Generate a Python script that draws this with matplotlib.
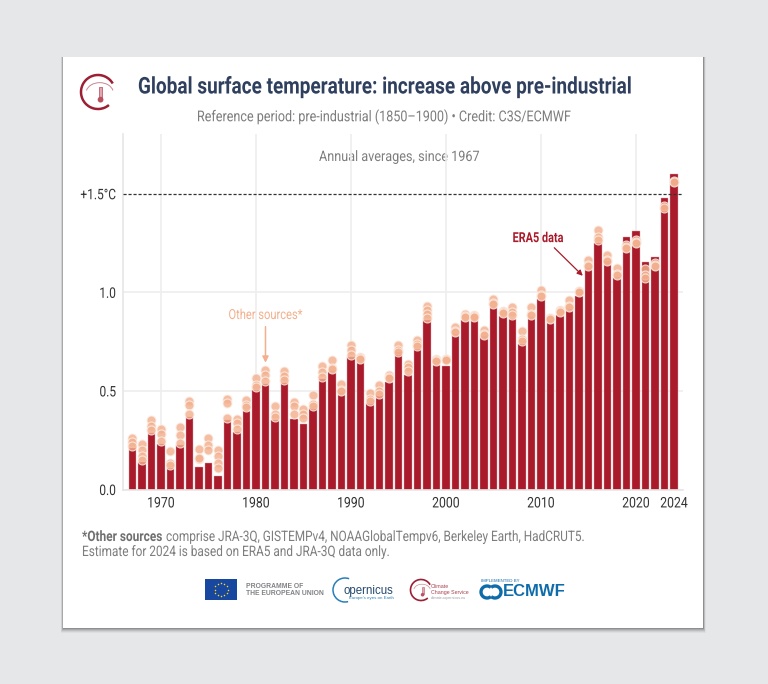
import numpy as np
import matplotlib
matplotlib.use('Agg')
import matplotlib.pyplot as plt
from matplotlib.patches import Rectangle, Circle, Arc
from matplotlib.patheffects import AbstractPathEffect
from matplotlib.transforms import Affine2D

years = list(range(1967, 2025))
era5 = [0.208, 0.14, 0.288, 0.233, 0.11, 0.225, 0.369, 0.112, 0.135, 0.068,
        0.352, 0.293, 0.40, 0.507, 0.535, 0.355, 0.538, 0.357, 0.332, 0.411,
        0.558, 0.60, 0.49, 0.673, 0.656, 0.44, 0.48, 0.543, 0.695, 0.582,
        0.714, 0.86, 0.63, 0.628, 0.788, 0.86, 0.863, 0.778, 0.927, 0.88,
        0.867, 0.74, 0.875, 0.965, 0.853, 0.883, 0.914, 0.98, 1.125, 1.252,
        1.157, 1.08, 1.28, 1.31, 1.154, 1.18, 1.48, 1.598]
# other datasets, read per year
others = [[.263, .241, .22], [.233, .2, .169, .149], [.355, .32, .30], [.306, .28, .247],
          [.196, .132, .123], [.318, .275, .236], [.448, .427, .382], [.203, .157, .16],
          [.263, .225, .2], [.2, .169, .132, .111], [.458, .439, .365], [.36, .338, .309],
          [.456, .427, .416], [.568, .529, .52], [.605, .579, .551], [.422, .382, .368],
          [.601, .574, .554], [.444, .422, .382], [.41, .382, .365], [.48, .436, .422],
          [.627, .596, .571], [.655, .617, .61], [.537, .507, .5], [.731, .706, .681],
          [.672, .665, .66], [.49, .458, .45], [.529, .5, .485], [.58, .57, .565],
          [.731, .706, .695], [.638, .622, .601], [.76, .74, .73], [.929, .909, .889, .87],
          [.664, .655, .65], [.664, .66, .655], [.824, .802, .8], [.892, .878, .875],
          [.883, .88, .875], [.811, .79, .785], [.965, .945, .94], [.905, .9, .895],
          [.926, .9, .883], [.804, .762, .755], [.926, .892, .885], [1.013, .985, .98],
          [.87, .868, .865], [.909, .905, .9], [.96, .93, .925], [1.008, 1.005, 1.0],
          [1.165, 1.14, 1.135], [1.318, 1.28, 1.264], [1.19, 1.165, 1.16], [1.125, 1.095, 1.09],
          [1.24, 1.23, 1.225], [1.263, 1.255, 1.25], [1.117, 1.086, 1.073], [1.149, 1.14, 1.135],
          [1.437, 1.43], [1.564, 1.56]]
y_ticks = [0.0, 0.5, 1.0]
y_labels = ['0.0', '0.5', '1.0']
x_ticks = [1970, 1980, 1990, 2000, 2010, 2020, 2024]

RED = '#a91b2b'
PEACH = '#f3b08e'
GREY = '#7d7d7d'
plt.rcParams['font.family'] = ['Roboto', 'DejaVu Sans']


# no condensed font installed: narrow the glyphs when they are drawn
class Squeeze(AbstractPathEffect):
    def __init__(self, fx, anchor=0.0):
        super().__init__()
        self.fx = fx
        self.anchor = anchor

    def draw_path(self, renderer, gc, tpath, affine, rgbFace=None):
        w = tpath.get_extents().x1 * self.anchor
        squeeze = Affine2D().translate(-w, 0).scale(self.fx, 1).translate(w, 0)
        renderer.draw_path(gc, tpath, squeeze + affine, rgbFace)


fig = plt.figure(figsize=(7.68, 6.84), dpi=100, facecolor='#e6e7e9')
rend = fig.canvas.get_renderer()


def fit(t, width):
    # squeeze a text to the pixel width it has in the reference
    anchor = {'left': 0.0, 'center': 0.5, 'right': 1.0}[t.get_ha()]
    t.set_path_effects([Squeeze(width / t.get_window_extent(rend).width, anchor)])
    return t


# page layer in pixel coordinates
bg = fig.add_axes([0, 0, 1, 1], zorder=0)
bg.set_xlim(0, 768)
bg.set_ylim(684, 0)
bg.axis('off')
for i, a in zip(range(5, 0, -1), [0.06, 0.1, 0.14, 0.2, 0.3]):
    bg.add_patch(Rectangle((63 - i / 2, 57), 640 + i, 571 + i, fc='#555555', ec='none', alpha=a))
bg.add_patch(Rectangle((63, 57), 640, 571, fc='white', ec='none'))

fit(bg.text(384.5, 87, 'Global surface temperature: increase above pre-industrial', fontsize=16.6,
            fontweight='bold', color='#2f3f5e', va='center', ha='center'), 493)
fit(bg.text(384, 117, 'Reference period: pre-industrial (1850\u20131900) \u2022 Credit: C3S/ECMWF',
            fontsize=10.8, color=GREY, va='center', ha='center'), 374)
fit(bg.text(399, 157, 'Annual averages, since 1967', fontsize=10.4, color=GREY, va='center', ha='center'), 160)

# footer
fit(bg.text(162, 537, '*Other sources', fontsize=10.4, fontweight='bold', color='#6f6f6f', va='center', ha='right'), 80)
fit(bg.text(166, 537, 'comprise JRA-3Q, GISTEMPv4, NOAAGlobalTempv6, Berkeley Earth, HadCRUT5.',
            fontsize=10.4, color=GREY, va='center', ha='left'), 416)
fit(bg.text(82, 552, 'Estimate for 2024 is based on ERA5 and JRA-3Q data only.', fontsize=10.4,
            color=GREY, va='center', ha='left'), 306)


# top left logo
def c3s_logo(ax, cx, cy, r, lw):
    ax.add_patch(Arc((cx, cy), 2 * r, 2 * r, theta1=50, theta2=330, color='#9c1f33', lw=lw))
    ax.add_patch(Arc((cx + r * 0.1, cy + r * 0.05), 1.6 * r, 1.2 * r, theta1=190, theta2=350, color='#c98a94', lw=lw * 0.4))
    ax.add_patch(Rectangle((cx + r * 0.05, cy - r * 0.3), r * 0.2, r * 0.7, fc='#e2a7ae', ec='#b8505f', lw=lw * 0.3))
    ax.add_patch(Circle((cx + r * 0.15, cy + r * 0.45), r * 0.17, fc='#b8505f', ec='none'))


c3s_logo(bg, 98, 92, 17, 1.8)

# bottom logos
bg.add_patch(Rectangle((205, 579), 32, 21, fc='#17479e', ec='none'))
ang = np.arange(12) * np.pi / 6
bg.scatter(221 + 6.5 * np.cos(ang), 589.5 + 6.5 * np.sin(ang), s=1.2, c='#ffd617', lw=0)
bg.text(246, 586, 'PROGRAMME OF', fontsize=4.9, fontweight='bold', color='#808285', va='center', family='Liberation Sans')
bg.text(246, 593.5, 'THE EUROPEAN UNION', fontsize=4.9, fontweight='bold', color='#808285', va='center', family='Liberation Sans')
bg.add_patch(Arc((345, 590), 24, 24, theta1=75, theta2=290, color='#2a7fb8', lw=1.1))
bg.text(343, 591, 'opernicus', fontsize=8.3, color='#244a6e', va='center', family='Liberation Sans')
bg.text(349, 598, 'Europe\u2019s eyes on Earth', fontsize=3.2, color='#2a7fb8', va='center', family='Liberation Sans')
c3s_logo(bg, 421, 590, 10.5, 1.2)
bg.text(431, 587, 'Climate', fontsize=3.8, color='#a9424f', va='center', family='Liberation Sans')
bg.text(431, 592.5, 'Change Service', fontsize=3.8, color='#a9424f', va='center', family='Liberation Sans')
bg.text(431, 598.5, 'climate.copernicus.eu', fontsize=2.6, color='#999999', va='center', family='Liberation Sans')
bg.text(481, 580.5, 'IMPLEMENTED BY', fontsize=3.2, color='#1a6ea8', va='center', family='Liberation Sans')
bg.add_patch(Arc((487, 592), 12, 12, theta1=50, theta2=310, color='#0f6cab', lw=2.4))
bg.add_patch(Arc((495, 592), 12, 12, theta1=230, theta2=130, color='#0f6cab', lw=2.4))
bg.text(503, 592, 'ECMWF', fontsize=12, fontweight='bold', color='#0f6cab', va='center', family='Liberation Sans')

# chart
left, right, top, bottom = 123, 683, 134, 489.5
ax = fig.add_axes([left / 768, 1 - bottom / 684, (right - left) / 768, (bottom - top) / 684],
                  zorder=1, facecolor='none')
ax.set_xlim(1966, 2024.95)
ax.set_ylim(0, 1.803)
for s in ['top', 'right']:
    ax.spines[s].set_visible(False)
for s in ['left', 'bottom']:
    ax.spines[s].set_color('#e6e6e6')
    ax.spines[s].set_linewidth(1.2)

ax.bar(years, era5, width=0.83, color=RED, edgecolor='#e0a0a6', linewidth=0.3, zorder=2)
for yr, vals in zip(years, others):
    ax.scatter([yr] * len(vals), vals, s=42, color=PEACH, alpha=0.82, edgecolor='#fbeee6',
               linewidth=0.8, zorder=3)

ax.axhline(1.5, color='#333333', lw=0.9, ls=(0, (2.5, 1.5)), zorder=4)

ax.set_xticks(x_ticks)
ax.set_xticklabels([str(x) for x in x_ticks])
ax.set_yticks(y_ticks + [1.5])
ax.set_yticklabels(y_labels + ['+1.5\u00b0C'])
ax.tick_params(length=0, labelsize=10.5, labelcolor='#333333')
ax.tick_params(axis='x', pad=5)
ax.tick_params(axis='y', pad=5)
ax.grid(True, color='#eeeeee', lw=1.2, zorder=0)
ax.set_axisbelow(True)
ax.get_xgridlines()[-1].set_visible(False)
ax.get_ygridlines()[-1].set_visible(False)
for lab in ax.get_xticklabels():
    lab.set_path_effects([Squeeze(0.84, 0.5)])
for lab in ax.get_yticklabels():
    lab.set_path_effects([Squeeze(0.82, 1.0)])

fit(ax.text(2009.7, 1.275, 'ERA5 data', fontsize=10, fontweight='bold', color=RED, ha='center', va='center'), 51)
ax.annotate('', xy=(2014.4, 1.084), xytext=(2011.4, 1.226),
            arrowprops=dict(arrowstyle='-|>', color=RED, lw=0.9, shrinkA=0, shrinkB=0, mutation_scale=8))
fit(ax.text(1981, 0.885, 'Other sources*', fontsize=10, color=PEACH, ha='center', va='center'), 74)
ax.annotate('', xy=(1981, 0.643), xytext=(1981, 0.826),
            arrowprops=dict(arrowstyle='-|>', color=PEACH, lw=1.1, shrinkA=0, shrinkB=0, mutation_scale=9))

fig.savefig('out.png', dpi=100, facecolor=fig.get_facecolor())
